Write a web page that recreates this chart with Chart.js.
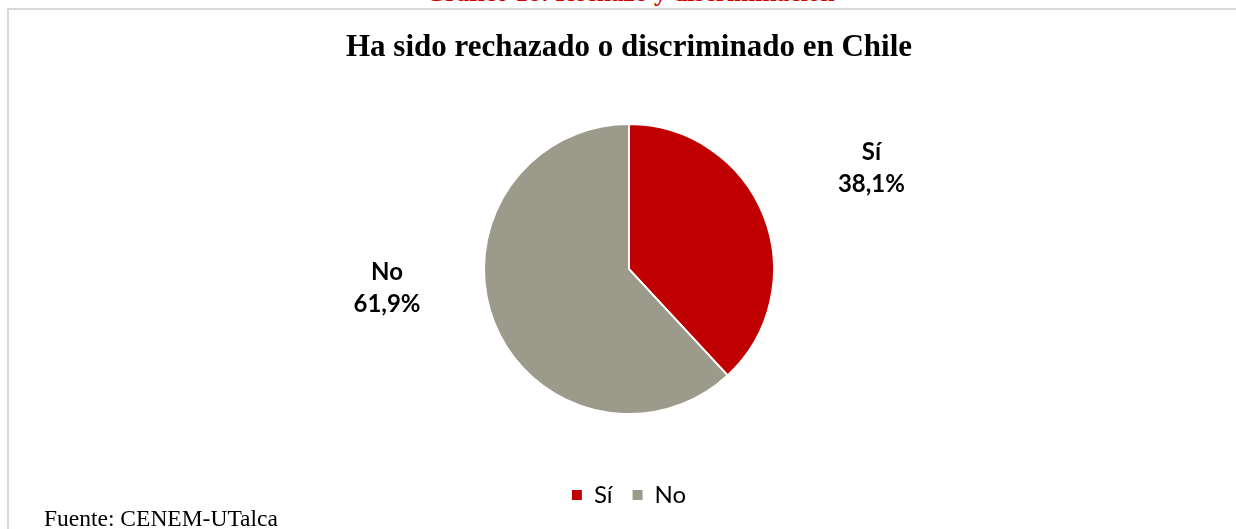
<!DOCTYPE html>
<html>
<head>
<meta charset="utf-8">
<script src="https://cdn.jsdelivr.net/npm/chart.js@4.4.1/dist/chart.umd.min.js"></script>
<style>
  html, body { margin: 0; padding: 0; background: #fff; overflow: hidden; }
  body { width: 1236px; height: 529px; position: relative; }
  #frame { position: absolute; left: 7px; top: 8px; width: 1300px; height: 600px;
           border-top: 2px solid #d9d9d9; border-left: 2px solid #d9d9d9; box-sizing: border-box; }
  #header { position: absolute; left: 0; width: 1260px; text-align: center; top: -20px;
            font-family: "Liberation Serif", serif; font-weight: bold; font-size: 25.5px; color: #d00000;
            line-height: 25px; white-space: nowrap; }
  #wrap { position: absolute; left: 0; top: 0; width: 1236px; height: 529px; }
  #source { position: absolute; left: 44px; top: 505px; font-family: "Liberation Serif", serif;
            font-size: 23.5px; line-height: 26px; color: #000; white-space: nowrap; }
</style>
</head>
<body>
<div id="frame"></div>
<div id="header">Gráfico 18: Rechazo y discriminación</div>
<div id="wrap"><canvas id="c" width="1236" height="529"></canvas></div>
<div id="source">Fuente: CENEM-UTalca</div>
<script>
const chartTitle = "Ha sido rechazado o discriminado en Chile";
const categories = ["Sí", "No"];
const values = [38.1, 61.9];
const sliceColors = ["#C00000", "#9B9A8B"];

const labelPlugin = {
  id: 'outerLabels',
  afterDatasetsDraw(chart, args, opts) {
    const ctx = chart.ctx;
    const meta = chart.getDatasetMeta(0);
    ctx.save();
    ctx.font = opts.font;
    ctx.fillStyle = opts.color;
    ctx.textAlign = 'center';
    ctx.textBaseline = 'alphabetic';
    meta.data.forEach((arc, i) => {
      const r = arc.outerRadius;
      const a = opts.anchors[i];
      const x = arc.x + a[0] * r;
      const y = arc.y + a[1] * r;
      const v = chart.data.datasets[0].data[i];
      const lines = [chart.data.labels[i], v.toFixed(1).replace('.', ',') + '%'];
      ctx.fillText(lines[0], x, y - opts.lineGap / 2);
      ctx.fillText(lines[1], x, y + opts.lineGap / 2);
    });
    ctx.restore();
  }
};

new Chart(document.getElementById('c'), {
  type: 'pie',
  data: {
    labels: categories,
    datasets: [{
      data: values,
      backgroundColor: sliceColors,
      borderColor: '#ffffff',
      borderWidth: 2,
      hoverOffset: 0
    }]
  },
  options: {
    responsive: false,
    animation: false,
    radius: 145,
    layout: { padding: { left: 22, right: 0, top: 0, bottom: 12 } },
    plugins: {
      title: {
        display: true,
        text: chartTitle,
        color: '#000',
        font: { family: 'Liberation Serif', weight: 'bold', size: 31 },
        padding: { top: 29, bottom: 9 }
      },
      legend: {
        position: 'bottom',
        labels: {
          color: '#000',
          font: { family: 'Lato', size: 24 },
          boxWidth: 10,
          boxHeight: 10,
          padding: 20,
          generateLabels(chart) {
            const items = Chart.overrides.pie.plugins.legend.labels.generateLabels(chart);
            items.forEach(it => { it.lineWidth = 0; it.strokeStyle = it.fillStyle; });
            return items;
          }
        }
      },
      tooltip: { enabled: false },
      outerLabels: {
        font: 'bold 24px Lato',
        color: '#000',
        lineGap: 32,
        anchors: [[1.672, -0.639], [-1.669, 0.183]]
      }
    }
  },
  plugins: [labelPlugin]
});
</script>
</body>
</html>
